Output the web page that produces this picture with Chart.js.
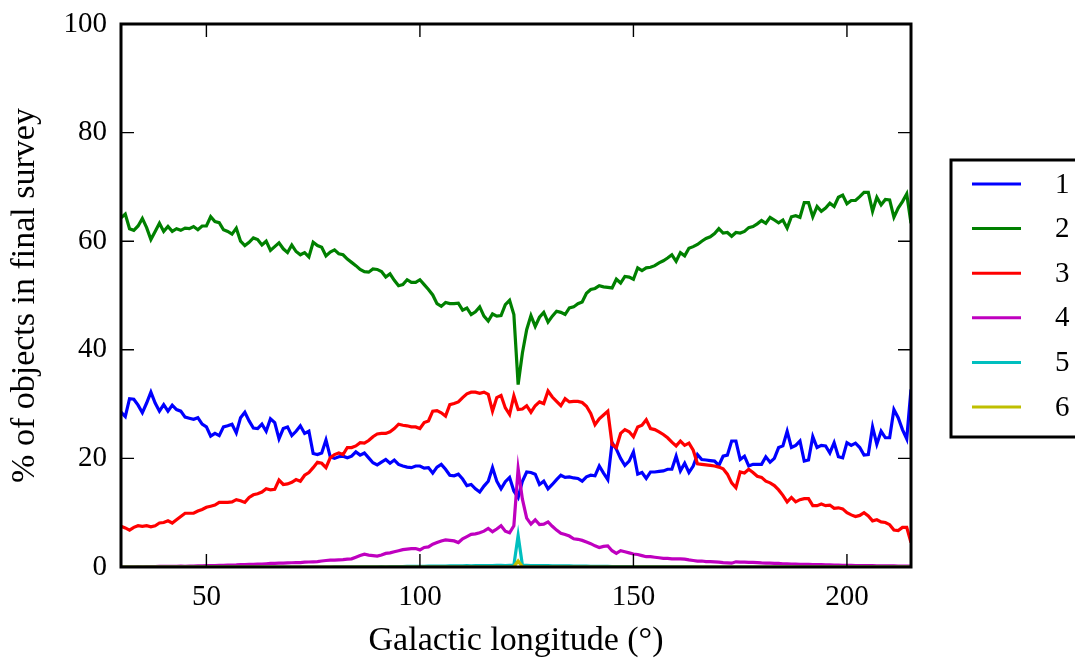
<!DOCTYPE html>
<html>
<head>
<meta charset="utf-8">
<script src="https://cdn.jsdelivr.net/npm/chart.js@4/dist/chart.umd.min.js"></script>
<style>
  html, body { margin: 0; padding: 0; background: #fff; }
  #wrap { width: 1075px; height: 659px; position: relative; }
</style>
</head>
<body>
<div id="wrap"><canvas id="surveyChart"></canvas></div>
<script>
// galactic longitude bins (deg)
const longitudes = [
  30, 31, 32, 33, 34, 35, 36, 37, 38, 39, 40, 41, 42, 43, 44, 45, 46, 47, 48, 49,
  50, 51, 52, 53, 54, 55, 56, 57, 58, 59, 60, 61, 62, 63, 64, 65, 66, 67, 68, 69,
  70, 71, 72, 73, 74, 75, 76, 77, 78, 79, 80, 81, 82, 83, 84, 85, 86, 87, 88, 89,
  90, 91, 92, 93, 94, 95, 96, 97, 98, 99, 100, 101, 102, 103, 104, 105, 106, 107, 108, 109,
  110, 111, 112, 113, 114, 115, 116, 117, 118, 119, 120, 121, 122, 123, 124, 125, 126, 127, 128, 129,
  130, 131, 132, 133, 134, 135, 136, 137, 138, 139, 140, 141, 142, 143, 144, 145, 146, 147, 148, 149,
  150, 151, 152, 153, 154, 155, 156, 157, 158, 159, 160, 161, 162, 163, 164, 165, 166, 167, 168, 169,
  170, 171, 172, 173, 174, 175, 176, 177, 178, 179, 180, 181, 182, 183, 184, 185, 186, 187, 188, 189,
  190, 191, 192, 193, 194, 195, 196, 197, 198, 199, 200, 201, 202, 203, 204, 205, 206, 207, 208, 209,
  210, 211, 212, 213, 214, 215
];

const class1 = [
  28.5, 27.7, 31.0, 30.9, 29.8, 28.4, 30.2, 32.2, 30.2, 28.7,
  29.9, 28.7, 29.8, 29.0, 28.7, 27.6, 27.4, 27.2, 27.5, 26.3,
  25.8, 24.1, 24.6, 24.2, 25.8, 26.0, 26.3, 24.7, 27.5, 28.5,
  26.9, 25.6, 25.5, 26.3, 25.0, 27.3, 26.6, 23.6, 25.5, 25.8,
  24.2, 25.0, 26.0, 24.6, 25.0, 20.9, 20.7, 21.0, 23.4, 20.3,
  20.0, 20.3, 20.4, 20.1, 20.4, 21.2, 20.6, 21.0, 20.1, 19.2,
  18.8, 19.3, 19.8, 19.1, 19.7, 18.9, 18.6, 18.4, 18.3, 18.6,
  18.6, 18.2, 18.3, 17.3, 18.4, 18.9, 18.0, 16.9, 16.8, 17.1,
  16.2, 15.0, 15.2, 14.4, 13.8, 14.9, 15.8, 18.3, 15.8, 14.4,
  15.7, 16.5, 14.0, 12.8, 15.8, 17.5, 17.4, 17.1, 15.2, 15.8,
  14.4, 15.2, 16.1, 16.9, 16.5, 16.6, 16.4, 16.3, 15.8, 16.6,
  16.9, 16.8, 18.6, 17.3, 16.1, 22.9, 21.7, 20.0, 18.7, 19.5,
  21.2, 17.1, 17.4, 16.3, 17.5, 17.5, 17.6, 17.7, 18.0, 18.0,
  20.4, 17.7, 19.1, 17.4, 18.6, 20.7, 19.8, 19.7, 19.6, 19.5,
  18.7, 20.4, 20.6, 23.2, 23.2, 19.8, 20.4, 18.6, 18.9, 18.9,
  18.9, 20.3, 19.3, 20.0, 22.0, 22.3, 25.0, 22.0, 22.4, 23.2,
  19.5, 19.7, 24.0, 22.0, 22.4, 22.3, 21.0, 22.9, 20.3, 20.1,
  22.9, 22.4, 22.8, 22.0, 20.6, 20.7, 25.8, 22.6, 25.0, 23.8,
  23.8, 29.0, 27.5, 25.3, 23.6, 32.7
];

const class2 = [
  64.3, 65.0, 62.3, 62.0, 62.8, 64.2, 62.5, 60.3, 61.8, 63.3,
  61.8, 62.7, 61.8, 62.3, 62.0, 62.4, 62.3, 62.7, 62.1, 62.8,
  62.8, 64.5, 63.6, 63.4, 62.1, 61.8, 61.3, 62.4, 60.0, 59.2,
  59.8, 60.6, 60.3, 59.3, 60.0, 58.3, 59.0, 59.7, 58.6, 57.9,
  59.3, 58.1, 57.5, 57.9, 57.1, 59.8, 59.2, 58.9, 57.3, 58.0,
  58.4, 57.7, 57.5, 56.7, 56.1, 55.5, 54.8, 54.4, 54.3, 54.9,
  54.8, 54.4, 53.4, 54.0, 52.8, 51.8, 52.0, 52.9, 52.4, 52.4,
  52.9, 52.0, 51.1, 50.1, 48.5, 48.0, 48.7, 48.5, 48.5, 48.6,
  47.3, 47.7, 46.5, 47.0, 47.9, 46.2, 45.3, 46.6, 46.2, 46.3,
  48.3, 49.1, 46.5, 33.6, 39.4, 43.7, 46.3, 44.3, 46.0, 46.9,
  45.1, 46.2, 47.1, 46.9, 46.5, 47.7, 47.9, 48.5, 48.8, 50.4,
  51.1, 51.3, 51.8, 51.6, 51.5, 51.4, 53.0, 52.3, 53.5, 53.4,
  53.0, 55.1, 54.6, 55.1, 55.2, 55.5, 56.0, 56.4, 56.9, 57.5,
  56.3, 57.9, 57.3, 58.7, 59.0, 59.4, 60.0, 60.5, 60.8, 61.4,
  62.3, 61.5, 61.6, 60.9, 61.6, 61.5, 61.8, 62.5, 62.7, 63.2,
  63.8, 63.3, 64.4, 63.9, 63.4, 63.9, 62.4, 64.5, 64.7, 64.4,
  67.1, 67.1, 64.5, 66.4, 65.5, 66.1, 67.0, 66.4, 68.1, 68.5,
  66.9, 67.5, 67.5, 68.2, 69.0, 69.0, 65.5, 68.1, 66.7, 67.7,
  67.6, 64.4, 66.1, 67.3, 68.7, 63.3
];

const class3 = [
  7.5, 7.2, 6.8, 7.3, 7.6, 7.5, 7.6, 7.4, 7.6, 8.1,
  8.2, 8.5, 8.1, 8.7, 9.3, 9.9, 9.9, 9.9, 10.3, 10.6,
  11.0, 11.2, 11.4, 11.9, 11.9, 11.9, 12.0, 12.4, 12.2, 11.9,
  12.8, 13.3, 13.5, 13.8, 14.4, 14.2, 14.3, 16.0, 15.2, 15.3,
  15.6, 16.1, 15.8, 16.9, 17.4, 18.3, 19.3, 19.1, 18.3, 20.1,
  20.7, 21.0, 20.7, 22.0, 22.0, 22.3, 22.9, 22.8, 23.3, 24.0,
  24.5, 24.6, 24.6, 24.9, 25.5, 26.3, 26.1, 26.0, 25.8, 25.8,
  25.5, 26.6, 26.9, 28.7, 28.8, 28.4, 27.8, 29.9, 30.1, 30.4,
  31.2, 31.9, 32.2, 32.2, 32.0, 32.2, 31.8, 28.7, 31.2, 31.6,
  29.3, 28.1, 31.5, 29.0, 29.1, 29.7, 28.5, 29.7, 30.4, 30.1,
  32.4, 31.3, 30.5, 29.7, 31.0, 30.4, 30.5, 30.5, 30.3, 29.6,
  28.3, 26.2, 27.3, 28.0, 28.7, 22.6, 22.0, 24.6, 25.3, 24.9,
  24.0, 25.8, 26.1, 27.1, 25.5, 25.3, 24.9, 24.4, 23.8, 23.0,
  22.3, 23.2, 22.4, 22.8, 21.5, 19.0, 18.9, 18.8, 18.7, 18.6,
  18.4, 18.1, 17.1, 15.5, 14.6, 17.5, 17.3, 18.0, 17.4, 16.7,
  16.5, 15.8, 15.5, 15.0, 14.2, 13.2, 12.0, 12.8, 12.0, 12.4,
  12.6, 12.6, 11.3, 11.3, 11.6, 11.3, 11.4, 10.8, 10.9, 10.7,
  10.0, 9.6, 9.3, 9.5, 10.0, 9.4, 8.5, 8.7, 8.3, 8.2,
  7.8, 6.8, 6.7, 7.3, 7.3, 4.5
];

const class4 = [
  0.02, 0.03, 0.05, 0.04, 0.06, 0.05, 0.08, 0.07, 0.09, 0.10,
  0.10, 0.12, 0.11, 0.14, 0.15, 0.13, 0.17, 0.18, 0.20, 0.19,
  0.25, 0.27, 0.28, 0.30, 0.32, 0.35, 0.36, 0.38, 0.42, 0.44,
  0.47, 0.50, 0.52, 0.55, 0.60, 0.65, 0.68, 0.70, 0.72, 0.75,
  0.78, 0.80, 0.82, 0.88, 0.92, 0.96, 1.00, 1.10, 1.20, 1.25,
  1.25, 1.30, 1.35, 1.45, 1.50, 1.80, 2.10, 2.35, 2.20, 2.10,
  2.00, 2.20, 2.50, 2.60, 2.80, 3.00, 3.20, 3.30, 3.40, 3.40,
  3.15, 3.60, 3.70, 4.20, 4.50, 4.80, 5.00, 4.90, 4.80, 4.50,
  5.20, 5.60, 6.00, 6.10, 6.30, 6.60, 7.10, 6.50, 7.00, 7.60,
  6.60, 6.30, 7.60, 18.1, 12.5, 9.00, 7.90, 8.70, 7.80, 7.90,
  8.30, 7.50, 6.80, 6.20, 6.00, 5.70, 5.20, 5.10, 4.90, 4.60,
  4.30, 3.90, 3.60, 3.80, 3.90, 3.00, 2.50, 3.00, 2.80, 2.60,
  2.40, 2.30, 2.10, 1.90, 1.90, 1.80, 1.70, 1.60, 1.60, 1.50,
  1.50, 1.50, 1.45, 1.30, 1.20, 1.10, 1.10, 1.00, 1.00, 0.95,
  0.90, 0.80, 0.75, 0.70, 0.95, 0.90, 0.90, 0.85, 0.85, 0.80,
  0.75, 0.72, 0.70, 0.66, 0.65, 0.60, 0.58, 0.55, 0.53, 0.50,
  0.50, 0.47, 0.45, 0.44, 0.42, 0.40, 0.38, 0.36, 0.35, 0.32,
  0.30, 0.29, 0.28, 0.27, 0.26, 0.25, 0.24, 0.22, 0.21, 0.20,
  0.20, 0.19, 0.18, 0.17, 0.16, 0.15
];

const class5 = [
  0, 0, 0, 0, 0, 0, 0, 0, 0, 0,
  0, 0, 0, 0, 0, 0, 0, 0, 0, 0,
  0, 0, 0, 0, 0, 0, 0, 0, 0, 0,
  0, 0, 0, 0, 0, 0, 0, 0, 0, 0,
  0, 0, 0, 0, 0, 0, 0, 0, 0, 0,
  0.02, 0.02, 0.03, 0.02, 0.03, 0.04, 0.03, 0.04, 0.05, 0.04,
  0.05, 0.06, 0.05, 0.07, 0.08, 0.07, 0.09, 0.10, 0.10, 0.12,
  0.12, 0.14, 0.15, 0.15, 0.17, 0.18, 0.17, 0.20, 0.21, 0.20,
  0.22, 0.24, 0.23, 0.25, 0.26, 0.27, 0.25, 0.28, 0.29, 0.30,
  0.28, 0.30, 0.32, 5.80, 0.33, 0.30, 0.28, 0.27, 0.26, 0.25,
  0.24, 0.23, 0.22, 0.21, 0.20, 0.19, 0.18, 0.17, 0.16, 0.15,
  0.14, 0.13, 0.12, 0.11, 0.10, 0.09, 0.08, 0.07, 0.06, 0.06,
  0.05, 0.05, 0.04, 0.04, 0.03, 0.03, 0.03, 0.02, 0.02, 0.02,
  0.02, 0.01, 0.01, 0.01, 0.01, 0, 0, 0, 0, 0,
  0, 0, 0, 0, 0, 0, 0, 0, 0, 0,
  0, 0, 0, 0, 0, 0, 0, 0, 0, 0,
  0, 0, 0, 0, 0, 0, 0, 0, 0, 0,
  0, 0, 0, 0, 0, 0, 0, 0, 0, 0,
  0, 0, 0, 0, 0, 0
];

const class6 = [
  0, 0, 0, 0, 0, 0, 0, 0, 0, 0,
  0, 0, 0, 0, 0, 0, 0, 0, 0, 0,
  0, 0, 0, 0, 0, 0, 0, 0, 0, 0,
  0, 0, 0, 0, 0, 0, 0, 0, 0, 0,
  0, 0, 0, 0, 0, 0, 0, 0, 0, 0,
  0, 0, 0, 0, 0, 0, 0, 0, 0, 0,
  0, 0, 0, 0, 0, 0, 0, 0, 0, 0,
  0, 0, 0, 0, 0, 0, 0, 0, 0, 0,
  0, 0, 0, 0, 0, 0, 0, 0, 0, 0,
  0, 0, 0.05, 1.10, 0.05, 0, 0, 0, 0, 0,
  0, 0, 0, 0, 0, 0, 0, 0, 0, 0,
  0, 0, 0, 0, 0, 0, 0, 0, 0, 0,
  0, 0, 0, 0, 0, 0, 0, 0, 0, 0,
  0, 0, 0, 0, 0, 0, 0, 0, 0, 0,
  0, 0, 0, 0, 0, 0, 0, 0, 0, 0,
  0, 0, 0, 0, 0, 0, 0, 0, 0, 0,
  0, 0, 0, 0, 0, 0, 0, 0, 0, 0,
  0, 0, 0, 0, 0, 0, 0, 0, 0, 0,
  0, 0, 0, 0, 0, 0
];

const classLabels = ['1', '2', '3', '4', '5', '6'];
const classColors = ['#0000ff', '#008000', '#ff0000', '#bf00bf', '#00bfbf', '#bfbf00'];
const xTickValues = [50, 100, 150, 200];
const yTickValues = [0, 20, 40, 60, 80, 100];

const FONT = "'Liberation Serif', 'Times New Roman', serif";

const seriesList = [class1, class2, class3, class4, class5, class6];
const datasets = seriesList.map(function (vals, i) {
  return {
    label: classLabels[i],
    data: vals.map(function (v, j) { return { x: longitudes[j], y: v }; }),
    borderColor: classColors[i],
    borderWidth: 3.2,
    pointRadius: 0,
    fill: false,
    tension: 0,
    order: seriesList.length - i  // later classes drawn on top, like matplotlib
  };
});

// frame, inward ticks on all four sides, and the boxed legend
const framePlugin = {
  id: 'frame',
  afterDatasetsDraw(chart) {
    const ctx = chart.ctx;
    const a = chart.chartArea;
    const xs = chart.scales.x, ys = chart.scales.y;
    const tick = 13;
    ctx.save();
    ctx.strokeStyle = '#000';
    ctx.lineWidth = 1.4;
    ctx.beginPath();
    xTickValues.forEach(function (v) {
      const px = xs.getPixelForValue(v);
      ctx.moveTo(px, a.bottom); ctx.lineTo(px, a.bottom - tick);
      ctx.moveTo(px, a.top); ctx.lineTo(px, a.top + tick);
    });
    yTickValues.forEach(function (v) {
      const py = ys.getPixelForValue(v);
      ctx.moveTo(a.left, py); ctx.lineTo(a.left + tick, py);
      ctx.moveTo(a.right, py); ctx.lineTo(a.right - tick, py);
    });
    ctx.stroke();
    ctx.lineWidth = 3;
    ctx.strokeRect(a.left, a.top, a.right - a.left, a.bottom - a.top);

    // legend
    const lx = 951, ly = 160, lh = 277;
    ctx.fillStyle = '#fff';
    ctx.fillRect(lx, ly, 200, lh);
    ctx.strokeRect(lx, ly, 200, lh);
    ctx.font = '29px ' + FONT;
    ctx.textBaseline = 'middle';
    ctx.textAlign = 'left';
    chart.data.datasets.forEach(function (ds, i) {
      const y = 184 + i * 44.6;
      ctx.strokeStyle = ds.borderColor;
      ctx.lineWidth = 3;
      ctx.beginPath();
      ctx.moveTo(972, y); ctx.lineTo(1021, y);
      ctx.stroke();
      ctx.fillStyle = '#000';
      ctx.fillText(ds.label, 1055, y + 1);
    });
    ctx.restore();
  }
};

function noOverflow(s) {
  s.paddingTop = 0; s.paddingBottom = 0; s.paddingLeft = 0; s.paddingRight = 0;
}

new Chart(document.getElementById('surveyChart'), {
  type: 'line',
  data: { datasets: datasets },
  options: {
    responsive: true,
    maintainAspectRatio: false,
    animation: false,
    devicePixelRatio: 1,
    layout: { padding: { top: 24, right: 164, left: 0, bottom: 0 } },
    plugins: { legend: { display: false }, tooltip: { enabled: false } },
    scales: {
      x: {
        type: 'linear',
        min: 30,
        max: 215,
        grid: { display: false, drawTicks: false },
        border: { display: false },
        afterFit: function (s) { s.height = 92; noOverflow(s); },
        afterBuildTicks: function (s) { s.ticks = xTickValues.map(function (v) { return { value: v }; }); },
        ticks: { color: '#000', padding: 13, maxRotation: 0, font: { family: FONT, size: 29 } },
        title: {
          display: true,
          text: 'Galactic longitude (°)',
          color: '#000',
          font: { family: FONT, size: 34, lineHeight: 1 },
          padding: { top: 0, bottom: 1 }
        }
      },
      y: {
        min: 0,
        max: 100,
        grid: { display: false, drawTicks: false },
        border: { display: false },
        afterFit: function (s) { s.width = 121; noOverflow(s); },
        afterBuildTicks: function (s) { s.ticks = yTickValues.map(function (v) { return { value: v }; }); },
        ticks: { color: '#000', padding: 14, font: { family: FONT, size: 29 } },
        title: {
          display: true,
          text: '% of objects in final survey',
          color: '#000',
          font: { family: FONT, size: 34, lineHeight: 1 },
          padding: { top: 8, bottom: 0 }
        }
      }
    }
  },
  plugins: [framePlugin]
});
</script>
</body>
</html>
